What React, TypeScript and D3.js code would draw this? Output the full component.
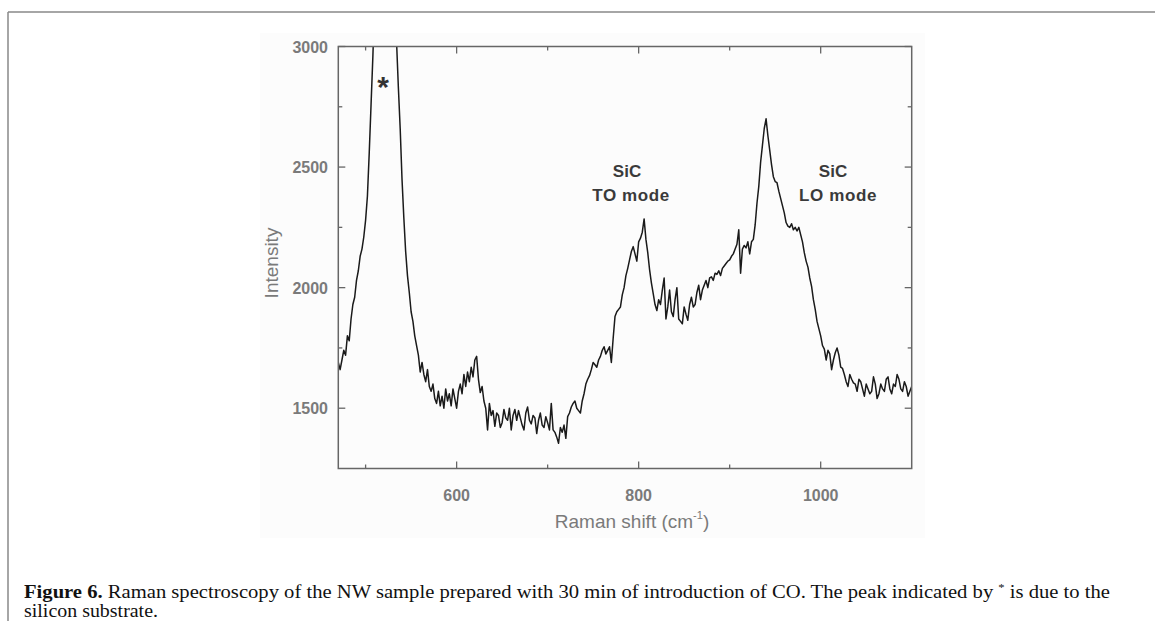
import React from "react";
import * as d3 from "d3";

// Raman spectrum, 2 cm-1 steps from 470 to 1100
const shiftStart = 470;
const shiftStep = 2;
const intensity = [
  // 470 - 508 rising edge of the Si peak
  1690, 1660, 1700, 1740, 1720, 1800, 1780, 1870, 1930, 1960,
  2030, 2070, 2130, 2160, 2210, 2280, 2380, 2560, 2760, 2960,
  // 510 - 534 Si substrate peak (off scale)
  3200, 3500, 3850, 4200, 4500, 4650, 4550, 4250, 3900, 3600, 3350, 3150, 3020,
  // 536 - 620
  2830, 2660, 2450, 2290, 2150, 2050, 1980, 1900, 1860, 1800,
  1760, 1720, 1650, 1690, 1640, 1610, 1660, 1590, 1570, 1600,
  1540, 1520, 1570, 1510, 1550, 1500, 1580, 1530, 1560, 1510,
  1580, 1540, 1500, 1570, 1600, 1560, 1640, 1590, 1650, 1610,
  1670, 1630, 1700,
  // 622 - 786
  1715, 1620, 1565, 1590, 1530, 1500, 1410, 1520, 1470, 1490,
  1425, 1480, 1470, 1420, 1440, 1495, 1460, 1450, 1500, 1410,
  1470, 1495, 1450, 1490, 1460, 1430, 1410, 1480, 1505, 1450,
  1435, 1470, 1460, 1395, 1450, 1480, 1430, 1420, 1465, 1440,
  1410, 1520, 1410, 1400, 1380, 1355, 1420, 1400, 1430, 1375,
  1465, 1480, 1505, 1520, 1530, 1500, 1490, 1480, 1530, 1560,
  1600, 1620, 1635, 1660, 1690, 1680, 1670, 1700, 1715, 1740,
  1755, 1725, 1740, 1755, 1690, 1790, 1880, 1900, 1910, 1920,
  1970, 2000, 2050,
  // 788 - 936 TO band and shoulder
  2080, 2115, 2150, 2170, 2140, 2110, 2190, 2205, 2230, 2285,
  2200, 2145, 2075, 2020, 1975, 1930, 1905, 1950, 1930, 1990,
  2040, 1870, 1920, 1990, 1900, 1880, 1950, 2000, 1870, 1860,
  1850, 1920, 1890, 1865, 1930, 1960, 1920, 1930, 1980, 2010,
  1950, 1990, 2010, 2030, 2000, 2040, 2045, 2030, 2060, 2055,
  2070, 2050, 2080, 2090, 2100, 2110, 2115, 2130, 2140, 2160,
  2180, 2240, 2060, 2160, 2175, 2165, 2190, 2140, 2190, 2200,
  2260, 2350, 2420, 2520, 2590,
  // 938 - 1100 LO band and tail
  2660, 2700, 2630, 2570, 2510, 2460, 2440, 2435, 2400, 2370,
  2340, 2310, 2270, 2255, 2250, 2265, 2240, 2250, 2235, 2250,
  2220, 2190, 2145, 2110, 2085, 2040, 2005, 1950, 1910, 1860,
  1830, 1800, 1760, 1745, 1700, 1740, 1725, 1660, 1700, 1730,
  1750, 1720, 1670, 1665, 1640, 1610, 1590, 1640, 1620, 1605,
  1600, 1570, 1620, 1610, 1580, 1550, 1600, 1580, 1560, 1570,
  1630, 1600, 1540, 1560, 1600, 1580, 1570, 1620, 1630, 1580,
  1560, 1600, 1590, 1640, 1620, 1580, 1570, 1610, 1590, 1550,
  1570, 1590,
];

const xMajor = [600, 800, 1000];
const xMinor = [500, 700, 900];
const yMajor = [1500, 2000, 2500, 3000];
const yMinor = [1750, 2250, 2750];

const W = 1155;
const H = 621;
const plot = { left: 338.3, right: 911.7, top: 46.5, bottom: 468.5 };

const x = d3.scaleLinear().domain([470, 1100]).range([plot.left, plot.right]);
const y = d3.scaleLinear().domain([1250, 3000]).range([plot.bottom, plot.top]);

const points: [number, number][] = intensity.map((v, i) => [shiftStart + i * shiftStep, v]);

const line = d3
  .line<[number, number]>()
  .x((d) => x(d[0]))
  .y((d) => y(d[1]));

const axisColor = "#666";
const labelColor = "#7a7a7a";

export default function App() {
  return (
    <svg
      width={W}
      height={H}
      style={{ position: "absolute", left: 0, top: 0, background: "#fff" }}
      fontFamily="Liberation Sans, Arial, sans-serif"
    >
      <defs>
        <clipPath id="plotClip">
          <rect x={plot.left} y={plot.top} width={plot.right - plot.left} height={plot.bottom - plot.top} />
        </clipPath>
      </defs>

      {/* page frame */}
      <line x1={8} x2={W} y1={12} y2={12} stroke="#888" strokeWidth={1.5} />
      <line x1={8} x2={8} y1={12} y2={H} stroke="#888" strokeWidth={1.5} />

      {/* faint scan background of the figure */}
      <rect x={260} y={33} width={665} height={505} fill="#fcfcfc" />

      {/* spectrum */}
      <path
        d={line(points) ?? ""}
        fill="none"
        stroke="#1a1a1a"
        strokeWidth={1.5}
        strokeLinejoin="round"
        clipPath="url(#plotClip)"
      />

      {/* box */}
      <rect
        x={plot.left}
        y={plot.top}
        width={plot.right - plot.left}
        height={plot.bottom - plot.top}
        fill="none"
        stroke={axisColor}
        strokeWidth={1.5}
      />

      {/* x ticks, inward on bottom and top */}
      {xMajor.map((t) => (
        <g key={"xM" + t}>
          <line x1={x(t)} x2={x(t)} y1={plot.bottom} y2={plot.bottom - 7} stroke={axisColor} strokeWidth={1.3} />
          <line x1={x(t)} x2={x(t)} y1={plot.top} y2={plot.top + 7} stroke={axisColor} strokeWidth={1.3} />
          <text x={x(t)} y={501} textAnchor="middle" fontSize={16} fontWeight="bold" fill={labelColor}>
            {t}
          </text>
        </g>
      ))}
      {xMinor.map((t) => (
        <g key={"xm" + t}>
          <line x1={x(t)} x2={x(t)} y1={plot.bottom} y2={plot.bottom - 4} stroke={axisColor} strokeWidth={1.3} />
          <line x1={x(t)} x2={x(t)} y1={plot.top} y2={plot.top + 4} stroke={axisColor} strokeWidth={1.3} />
        </g>
      ))}

      {/* y ticks, inward on left and right */}
      {yMajor.map((t) => (
        <g key={"yM" + t}>
          <line x1={plot.left} x2={plot.left + 7} y1={y(t)} y2={y(t)} stroke={axisColor} strokeWidth={1.3} />
          <line x1={plot.right} x2={plot.right - 7} y1={y(t)} y2={y(t)} stroke={axisColor} strokeWidth={1.3} />
          <text x={328} y={y(t) + 6} textAnchor="end" fontSize={16} fontWeight="bold" fill={labelColor}>
            {t}
          </text>
        </g>
      ))}
      {yMinor.map((t) => (
        <g key={"ym" + t}>
          <line x1={plot.left} x2={plot.left + 4} y1={y(t)} y2={y(t)} stroke={axisColor} strokeWidth={1.3} />
          <line x1={plot.right} x2={plot.right - 4} y1={y(t)} y2={y(t)} stroke={axisColor} strokeWidth={1.3} />
        </g>
      ))}

      {/* axis titles */}
      <text x={632} y={528} textAnchor="middle" fontSize={19} fill={labelColor}>
        Raman shift (cm
        <tspan fontSize={11} dy={-9}>-1</tspan>
        <tspan dy={9}>)</tspan>
      </text>
      <text
        transform={`translate(278, 263) rotate(-90)`}
        textAnchor="middle"
        fontSize={19}
        fill={labelColor}
      >
        Intensity
      </text>

      {/* peak annotations */}
      <text x={383} y={97} textAnchor="middle" fontSize={30} fontWeight="bold" fill="#333">
        *
      </text>
      <g fontSize={17} fontWeight="bold" fill="#3a3a3a" textAnchor="middle">
        <text x={627} y={177}>SiC</text>
        <text x={631} y={201} letterSpacing={0.6}>TO mode</text>
        <text x={833} y={177}>SiC</text>
        <text x={838} y={201} letterSpacing={0.6}>LO mode</text>
      </g>

      {/* caption */}
      <g fontFamily="Liberation Serif, Times New Roman, serif" fontSize={18} fill="#111">
        <text x={24} y={598} textLength={1086} lengthAdjust="spacingAndGlyphs">
          <tspan fontWeight="bold">Figure 6.</tspan> Raman spectroscopy of the NW sample prepared with 30 min of
          introduction of CO. The peak indicated by <tspan fontSize={11} dy={-7}>*</tspan>
          <tspan dy={7}> is due to the</tspan>
        </text>
        <text x={24} y={617} textLength={134} lengthAdjust="spacingAndGlyphs">silicon substrate.</text>
      </g>
    </svg>
  );
}
